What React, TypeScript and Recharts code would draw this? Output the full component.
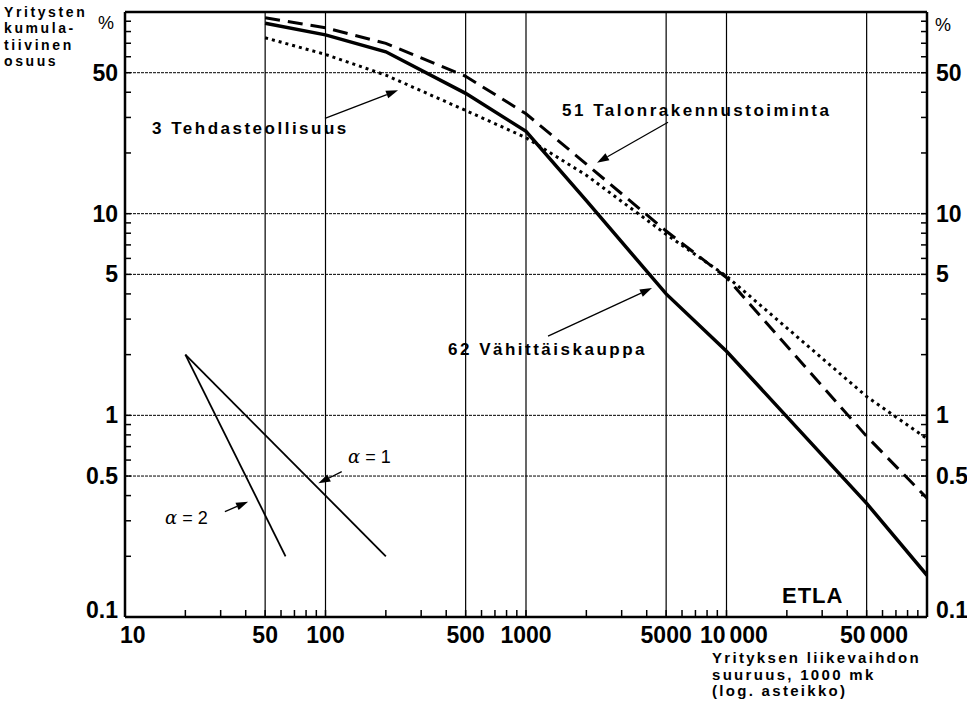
import { LineChart, Line, XAxis, YAxis, ReferenceLine } from 'recharts'

// x: company turnover, 1000 mk (log) ; y: cumulative share of companies, % (log)
const sizeX = [50, 100, 200, 500, 1000, 2000, 5000, 10000, 50000, 100000]

const retailY = [88, 77, 63.5, 39.5, 25.6, 11.6, 4.0, 2.08, 0.366, 0.161]
const buildingY = [93.7, 83.5, 69.9, 48.0, 31.3, 17.6, 8.2, 4.82, 0.787, 0.388]
const industryY = [74.5, 61.6, 48.6, 32.5, 23.8, 15.5, 7.9, 4.9, 1.24, 0.766]

// reference slopes
const alpha1X = [20, 200]
const alpha1Y = [2, 0.2]
const alpha2X = [20, 63.2]
const alpha2Y = [2, 0.2]

const xLabelTicks = [10, 50, 100, 500, 1000, 5000, 10000, 50000]
const xLabelText = ['10', '50', '100', '500', '1000', '5000', '10 000', '50 000']
const xDecades = [10, 100, 1000, 10000]
const yDecades = [0.1, 1, 10]
const minorSteps = [2, 3, 4, 5, 6, 7, 8, 9]
const yLabelTicks = [0.1, 0.5, 1, 5, 10, 50]
const yLabelText = ['0.1', '0.5', '1', '5', '10', '50']

const xGrid = [50, 100, 500, 1000, 5000, 10000, 50000]
const yGrid = [0.5, 1, 5, 10, 50]

// annotation arrows: [tailX, tailY, headX, headY]
const arrows = [
  [99.4, 29.7, 230, 40.9],
  [5109, 28.4, 2260, 17.9],
  [1288, 2.47, 4249, 4.28],
  [120.5, 0.526, 92.1, 0.46],
  [31.5, 0.333, 41.1, 0.373]
]

const FONT = '"Liberation Sans", Arial, sans-serif'

const toPoints = (xs: number[], ys: number[]) => xs.map((x, i) => ({ x, y: ys[i] }))

const xTicks = [...xDecades.flatMap(d => [d, ...minorSteps.map(s => d * s)]), 100000]
const yTicks = [...yDecades.flatMap(d => [d, ...minorSteps.map(s => d * s)]), 100]

const near = (a: number, b: number) => Math.abs(a - b) / b < 1e-6

function XTick({ x, y, payload }: any) {
  const v = payload.value
  const i = xLabelTicks.findIndex(t => near(v, t))
  const style = { fontFamily: FONT, fontWeight: 700, fontSize: 23, fill: '#000' }
  let label = null
  if (i >= 0) {
    const t = xLabelText[i]
    if (t.includes(' ')) {
      const [a, b] = t.split(' ')
      label = (
        <>
          <text x={x - 1} y={y + 26} textAnchor="end" {...style}>{a}</text>
          <text x={x + 3} y={y + 26} textAnchor="start" {...style}>{b}</text>
        </>
      )
    } else if (i === 0) {
      label = <text x={x - 5} y={y + 26} textAnchor="start" {...style}>{t}</text>
    } else {
      label = <text x={x} y={y + 26} textAnchor="middle" {...style}>{t}</text>
    }
  }
  return (
    <g>
      <line x1={x} y1={y} x2={x} y2={y - 7} stroke="#000" strokeWidth={1.5} />
      {label}
    </g>
  )
}

function makeYTick(side: 'left' | 'right') {
  return function YTick({ x, y, payload }: any) {
    const v = payload.value
    const i = yLabelTicks.findIndex(t => near(v, t))
    const dir = side === 'left' ? 1 : -1
    const dy = i === 0 ? -7 : 0
    return (
      <g>
        <line x1={x} y1={y} x2={x + dir * 6} y2={y} stroke="#000" strokeWidth={1.5} />
        {i >= 0 && (
          <text
            x={side === 'left' ? x - 7 : x + 9}
            y={y + dy + 8}
            textAnchor={side === 'left' ? 'end' : 'start'}
            fontFamily={FONT}
            fontWeight={700}
            fontSize={23}
            fill="#000"
          >
            {yLabelText[i]}
          </text>
        )}
      </g>
    )
  }
}

const Arrow = (props: any) => {
  const { x1, y1, x2, y2 } = props
  const a = Math.atan2(y2 - y1, x2 - x1)
  const L = 12
  const W = 4
  const bx = x2 - L * Math.cos(a)
  const by = y2 - L * Math.sin(a)
  const px = -Math.sin(a) * W
  const py = Math.cos(a) * W
  return (
    <g>
      <line x1={x1} y1={y1} x2={bx} y2={by} stroke="#000" strokeWidth={1.3} />
      <polygon points={`${x2},${y2} ${bx + px},${by + py} ${bx - px},${by - py}`} fill="#000" />
    </g>
  )
}

const txt = { fontFamily: FONT, fill: '#000' }

export default function App() {
  return (
    <div style={{ position: 'absolute', left: 0, top: 0, width: 967, height: 705, background: '#fff' }}>
      <LineChart width={967} height={705} margin={{ top: 12, right: 0, bottom: 58, left: 65 }}>
        <XAxis
          dataKey="x"
          type="number"
          scale="log"
          domain={[10, 100000]}
          ticks={xTicks}
          interval={0}
          tickSize={0}
          tickMargin={0}
          height={30}
          tick={<XTick />}
          axisLine={{ stroke: '#000', strokeWidth: 2.5 }}
          allowDataOverflow
        />
        <YAxis
          yAxisId="left"
          dataKey="y"
          type="number"
          scale="log"
          domain={[0.1, 100]}
          ticks={yTicks}
          interval={0}
          tickSize={0}
          tickMargin={0}
          width={60}
          tick={makeYTick('left')}
          axisLine={{ stroke: '#000', strokeWidth: 2.5 }}
          allowDataOverflow
        />
        <YAxis
          yAxisId="right"
          orientation="right"
          type="number"
          scale="log"
          domain={[0.1, 100]}
          ticks={yTicks}
          interval={0}
          tickSize={0}
          tickMargin={0}
          width={40}
          tick={makeYTick('right')}
          axisLine={{ stroke: '#000', strokeWidth: 2.5 }}
          allowDataOverflow
        />
        {xGrid.map(v => (
          <ReferenceLine key={'gx' + v} yAxisId="left" x={v} stroke="#000" strokeWidth={1.2} />
        ))}
        {yGrid.map(v => (
          <ReferenceLine key={'gy' + v} yAxisId="left" y={v} stroke="#000" strokeWidth={1} strokeDasharray="3 1" />
        ))}
        <ReferenceLine yAxisId="left" y={100} stroke="#000" strokeWidth={2.5} />
        <Line
          yAxisId="left"
          data={toPoints(sizeX, industryY)}
          dataKey="y"
          stroke="#000"
          strokeWidth={3}
          strokeDasharray="3 4"
          dot={false}
          isAnimationActive={false}
        />
        <Line
          yAxisId="left"
          data={toPoints(sizeX, buildingY)}
          dataKey="y"
          stroke="#000"
          strokeWidth={3}
          strokeDasharray="15 8"
          dot={false}
          isAnimationActive={false}
        />
        <Line
          yAxisId="left"
          data={toPoints(sizeX, retailY)}
          dataKey="y"
          stroke="#000"
          strokeWidth={3.5}
          dot={false}
          isAnimationActive={false}
        />
        <Line
          yAxisId="left"
          data={toPoints(alpha1X, alpha1Y)}
          dataKey="y"
          stroke="#000"
          strokeWidth={1.8}
          dot={false}
          isAnimationActive={false}
        />
        <Line
          yAxisId="left"
          data={toPoints(alpha2X, alpha2Y)}
          dataKey="y"
          stroke="#000"
          strokeWidth={1.8}
          dot={false}
          isAnimationActive={false}
        />
        {arrows.map((a, i) => (
          <ReferenceLine
            key={'ar' + i}
            yAxisId="left"
            segment={[{ x: a[0], y: a[1] }, { x: a[2], y: a[3] }]}
            shape={Arrow}
          />
        ))}
      </LineChart>
      <svg width={967} height={705} style={{ position: 'absolute', left: 0, top: 0, pointerEvents: 'none' }}>
        <g {...txt} fontWeight={700} fontSize={14} letterSpacing={2.6}>
          <text x={4} y={17}>Yritysten</text>
          <text x={4} y={33}>kumula-</text>
          <text x={4} y={50}>tiivinen</text>
          <text x={4} y={66}>osuus</text>
        </g>
        <text x={98} y={29} {...txt} fontSize={18}>%</text>
        <text x={935} y={31} {...txt} fontSize={18}>%</text>
        <g {...txt} fontWeight={700} fontSize={17} letterSpacing={2.5}>
          <text x={152} y={134}>3 Tehdasteollisuus</text>
          <text x={562} y={116}>51 Talonrakennustoiminta</text>
          <text x={448} y={355}>62 Vähittäiskauppa</text>
        </g>
        <text x={782} y={603} {...txt} fontWeight={700} fontSize={22} letterSpacing={1}>ETLA</text>
        <g {...txt} fontSize={18}>
          <text x={348} y={463}><tspan fontStyle="italic" fontFamily="'DejaVu Serif', serif">α</tspan> = 1</text>
          <text x={165} y={524}><tspan fontStyle="italic" fontFamily="'DejaVu Serif', serif">α</tspan> = 2</text>
        </g>
        <g {...txt} fontWeight={700} fontSize={15} letterSpacing={2.3}>
          <text x={712} y={663}>Yrityksen liikevaihdon</text>
          <text x={712} y={680}>suuruus, 1000 mk</text>
          <text x={712} y={696}>(log. asteikko)</text>
        </g>
      </svg>
    </div>
  )
}
